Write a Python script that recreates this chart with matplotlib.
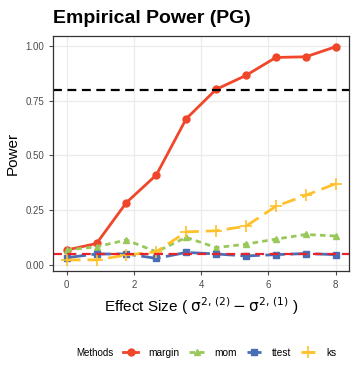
import matplotlib
matplotlib.use("Agg")
import matplotlib.pyplot as plt
import numpy as np

plt.rcParams["font.family"] = ["Liberation Sans", "DejaVu Sans"]
plt.rcParams["mathtext.fontset"] = "dejavusans"

effect = np.linspace(0, 8, 10)
margin = [0.068, 0.098, 0.285, 0.411, 0.668, 0.802, 0.866, 0.948, 0.951, 0.997]
mom = [0.068, 0.083, 0.114, 0.060, 0.126, 0.079, 0.095, 0.118, 0.139, 0.132]
ttest = [0.033, 0.050, 0.050, 0.030, 0.057, 0.050, 0.041, 0.047, 0.052, 0.047]
ks = [0.023, 0.023, 0.045, 0.060, 0.151, 0.156, 0.177, 0.268, 0.318, 0.371]

methods = ["margin", "mom", "ttest", "ks"]
colors = {"margin": "#F0462A", "mom": "#99C85A", "ttest": "#4A6EB5", "ks": "#FFC12B"}
markers = {"margin": "o", "mom": "^", "ttest": "s", "ks": "+"}
styles = {"margin": "-", "mom": (0, (2, 1.5)), "ttest": (0, (7, 2)), "ks": (0, (5, 2.5))}
series = {"margin": margin, "mom": mom, "ttest": ttest, "ks": ks}

fig = plt.figure(figsize=(3.57, 3.79), dpi=100)
ax = fig.add_axes([0.149, 0.286, 0.829, 0.619])

handles = []
for m in methods:
    h, = ax.plot(effect, series[m], color=colors[m], linestyle=styles[m],
                 marker=markers[m], markersize=5 if m != "ks" else 8,
                 markeredgewidth=1.0 if m != "ks" else 1.2, linewidth=2, label=m)
    handles.append(h)

ax.axhline(0.8, color="black", linestyle=(0, (4, 2.5)), linewidth=1.6)
ax.axhline(0.05, color="#E8232A", linestyle=(0, (4, 2.5)), linewidth=1.6)

ax.set_xlim(-0.4, 8.4)
ax.set_ylim(-0.026, 1.046)
ax.set_xticks([0, 2, 4, 6, 8])
ax.set_yticks([0, 0.25, 0.5, 0.75, 1.0])
ax.set_yticklabels(["0.00", "0.25", "0.50", "0.75", "1.00"])
ax.grid(True, color="#EBEBEB", linewidth=0.9)
ax.set_axisbelow(True)
for s in ax.spines.values():
    s.set_color("#333333")
    s.set_linewidth(0.9)
ax.tick_params(labelsize=7, colors="#4D4D4D", length=3, width=0.8)

ax.set_ylabel("Power", fontsize=11)
ax.set_xlabel(r"Effect Size ( $\mathrm{\sigma}^{2,\,(2)} - \mathrm{\sigma}^{2,\,(1)}$ )",
              fontsize=11, labelpad=4)

fig.text(0.149, 0.939, "Empirical Power (PG)", fontsize=14, fontweight="bold", va="baseline")

fig.text(0.213, 0.069, "Methods", fontsize=7, va="center")
fig.legend(handles=handles, loc="center left", bbox_to_anchor=(0.345, 0.069), ncol=4,
           frameon=False, fontsize=7.3, handlelength=1.45, columnspacing=1.0,
           handletextpad=1.0, borderpad=0, borderaxespad=0)

fig.savefig("out.png", dpi=100)
